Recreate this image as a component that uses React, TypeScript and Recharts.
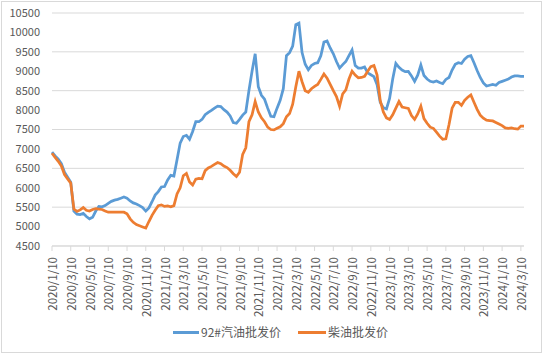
import { LineChart, Line, XAxis, YAxis, CartesianGrid } from "recharts";

// 92#汽油批发价 (元/吨), one point per ten days
const gasoline = [
  6920, 6820, 6740, 6620, 6400, 6270, 6140, 5400, 5320, 5310, 5340, 5260,
  5200, 5240, 5400, 5520, 5510, 5540, 5600, 5650, 5680, 5700, 5730, 5760,
  5730, 5660, 5610, 5580, 5540, 5490, 5400, 5480, 5640, 5810, 5900, 6020,
  6030, 6200, 6320, 6300, 6720, 7150, 7320, 7350, 7250, 7450, 7700, 7700,
  7760, 7880, 7940, 7990, 8050, 8100, 8090, 8010, 7950, 7850, 7680, 7660,
  7760, 7870, 7950, 8500, 9000, 9450, 8600, 8380, 8280, 8050, 7840, 7830,
  8050, 8250, 8550, 9400, 9480, 9650, 10200, 10240, 9480, 9180, 9040, 9150,
  9200, 9220, 9400, 9750, 9780, 9600, 9450, 9250, 9080, 9170, 9250, 9400,
  9550, 9150, 9080, 9080, 9110, 8960, 8910, 8860, 8650, 8200, 8060, 8030,
  8300, 8800, 9200, 9100, 9030, 8990, 8995, 8880, 8740, 8900, 9160, 8890,
  8800, 8740, 8720, 8750, 8710, 8680, 8790, 8840, 9030, 9180, 9220, 9200,
  9310, 9380, 9400, 9220, 9020, 8840, 8700, 8620, 8640, 8660, 8640, 8710,
  8740, 8770, 8800, 8850, 8880, 8880, 8870, 8870,
];

// 柴油批发价 (元/吨)
const diesel = [
  6890, 6780, 6680, 6560, 6340, 6230, 6120, 5450, 5390, 5430, 5490, 5420,
  5400, 5440, 5460, 5450, 5440, 5400, 5370, 5370, 5370, 5370, 5370, 5370,
  5330, 5200, 5110, 5050, 5020, 4990, 4960, 5130, 5290, 5420, 5540, 5560,
  5520, 5530, 5510, 5540, 5840, 6000, 6310, 6370, 6150, 6070, 6220, 6240,
  6230, 6440, 6510, 6550, 6600, 6650, 6620, 6560, 6520, 6450, 6360, 6290,
  6400, 6860, 7030, 7700, 7880, 8220, 7950, 7800, 7700, 7560, 7500, 7490,
  7530, 7570, 7650, 7830, 7910, 8150, 8600, 9000, 8730, 8500, 8460, 8550,
  8610, 8660, 8790, 8930, 8820, 8660, 8500, 8350, 8100, 8420, 8520, 8800,
  9000, 8900, 8830, 8840, 8870, 9000, 9120, 9150, 8900, 8250, 7950, 7800,
  7760, 7880, 8050, 8220, 8080, 8060, 8040, 7860, 7760, 7900, 8100, 7780,
  7660, 7560, 7530, 7430, 7330, 7250, 7260, 7620, 8050, 8200, 8200, 8120,
  8250, 8330, 8390, 8200, 8020, 7870, 7790, 7740, 7730, 7720, 7680, 7640,
  7600, 7540, 7530, 7540, 7520, 7510, 7590, 7590,
];

const yTicks = [4500, 5000, 5500, 6000, 6500, 7000, 7500, 8000, 8500, 9000, 9500, 10000, 10500];

// dates: 10th, 20th and end of each month, 2020/1/10 .. 2024/3/20
const dates: string[] = [];
for (let y = 2020; y <= 2024; y++) {
  for (let m = 1; m <= 12; m++) {
    for (const d of [10, 20, 30]) {
      if (y === 2024 && (m > 3 || (m === 3 && d > 20))) break;
      dates.push(`${y}/${m}/${d}`);
    }
  }
}

const data = dates.map((date, i) => ({ date, gasoline: gasoline[i], diesel: diesel[i] }));

const BLUE = "#5B9BD5";
const ORANGE = "#ED7D31";
const TEXT = "#595959";
const FONT = "'Noto Sans CJK SC', 'Noto Sans', sans-serif";

const DateTick = ({ x, y, payload }: any) => (
  <text
    x={x}
    y={y}
    transform={`rotate(-90 ${x} ${y})`}
    textAnchor="end"
    dominantBaseline="central"
    fill={TEXT}
    fontSize={11.5}
  >
    {payload.value}
  </text>
);

const LegendItem = ({ color, label, lineWidth }: { color: string; label: string; lineWidth: number }) => (
  <div style={{ display: "flex", alignItems: "center" }}>
    <span style={{ width: lineWidth, height: 3, background: color, display: "inline-block" }} />
    <span style={{ marginLeft: 2, fontSize: 12, color: TEXT }}>{label}</span>
  </div>
);

const App = () => (
  <div style={{ position: "absolute", left: 0, top: 0, width: 544, height: 356, background: "#fff", fontFamily: FONT }}>
    <div
      style={{
        position: "absolute",
        left: 1,
        top: 1,
        width: 541,
        height: 352,
        border: "1px solid #d9d9d9",
        boxSizing: "border-box",
      }}
    />
    <LineChart
      width={544}
      height={356}
      data={data}
      margin={{ top: 13, right: 20, left: 0, bottom: 40 }}
      style={{ position: "absolute", left: 0, top: 0 }}
    >
      <CartesianGrid vertical={false} stroke="#d9d9d9" />
      <XAxis
        dataKey="date"
        interval={5}
        height={70}
        stroke="#d9d9d9"
        tickSize={5}
        tickMargin={6}
        tick={DateTick}
      />
      <YAxis
        width={52}
        domain={[4500, 10500]}
        ticks={yTicks}
        axisLine={false}
        tickLine={false}
        tickSize={0}
        tickMargin={12}
        tick={{ fill: TEXT, fontSize: 11 }}
      />
      <Line dataKey="gasoline" name="92#汽油批发价" stroke={BLUE} strokeWidth={2.75} dot={false} isAnimationActive={false} />
      <Line dataKey="diesel" name="柴油批发价" stroke={ORANGE} strokeWidth={2.75} dot={false} isAnimationActive={false} />
    </LineChart>
    <div
      style={{
        position: "absolute",
        left: 173,
        top: 323,
        display: "flex",
        gap: 17,
        lineHeight: "18px",
      }}
    >
      <LegendItem color={BLUE} label="92#汽油批发价" lineWidth={26} />
      <LegendItem color={ORANGE} label="柴油批发价" lineWidth={28} />
    </div>
  </div>
);

export default App;
